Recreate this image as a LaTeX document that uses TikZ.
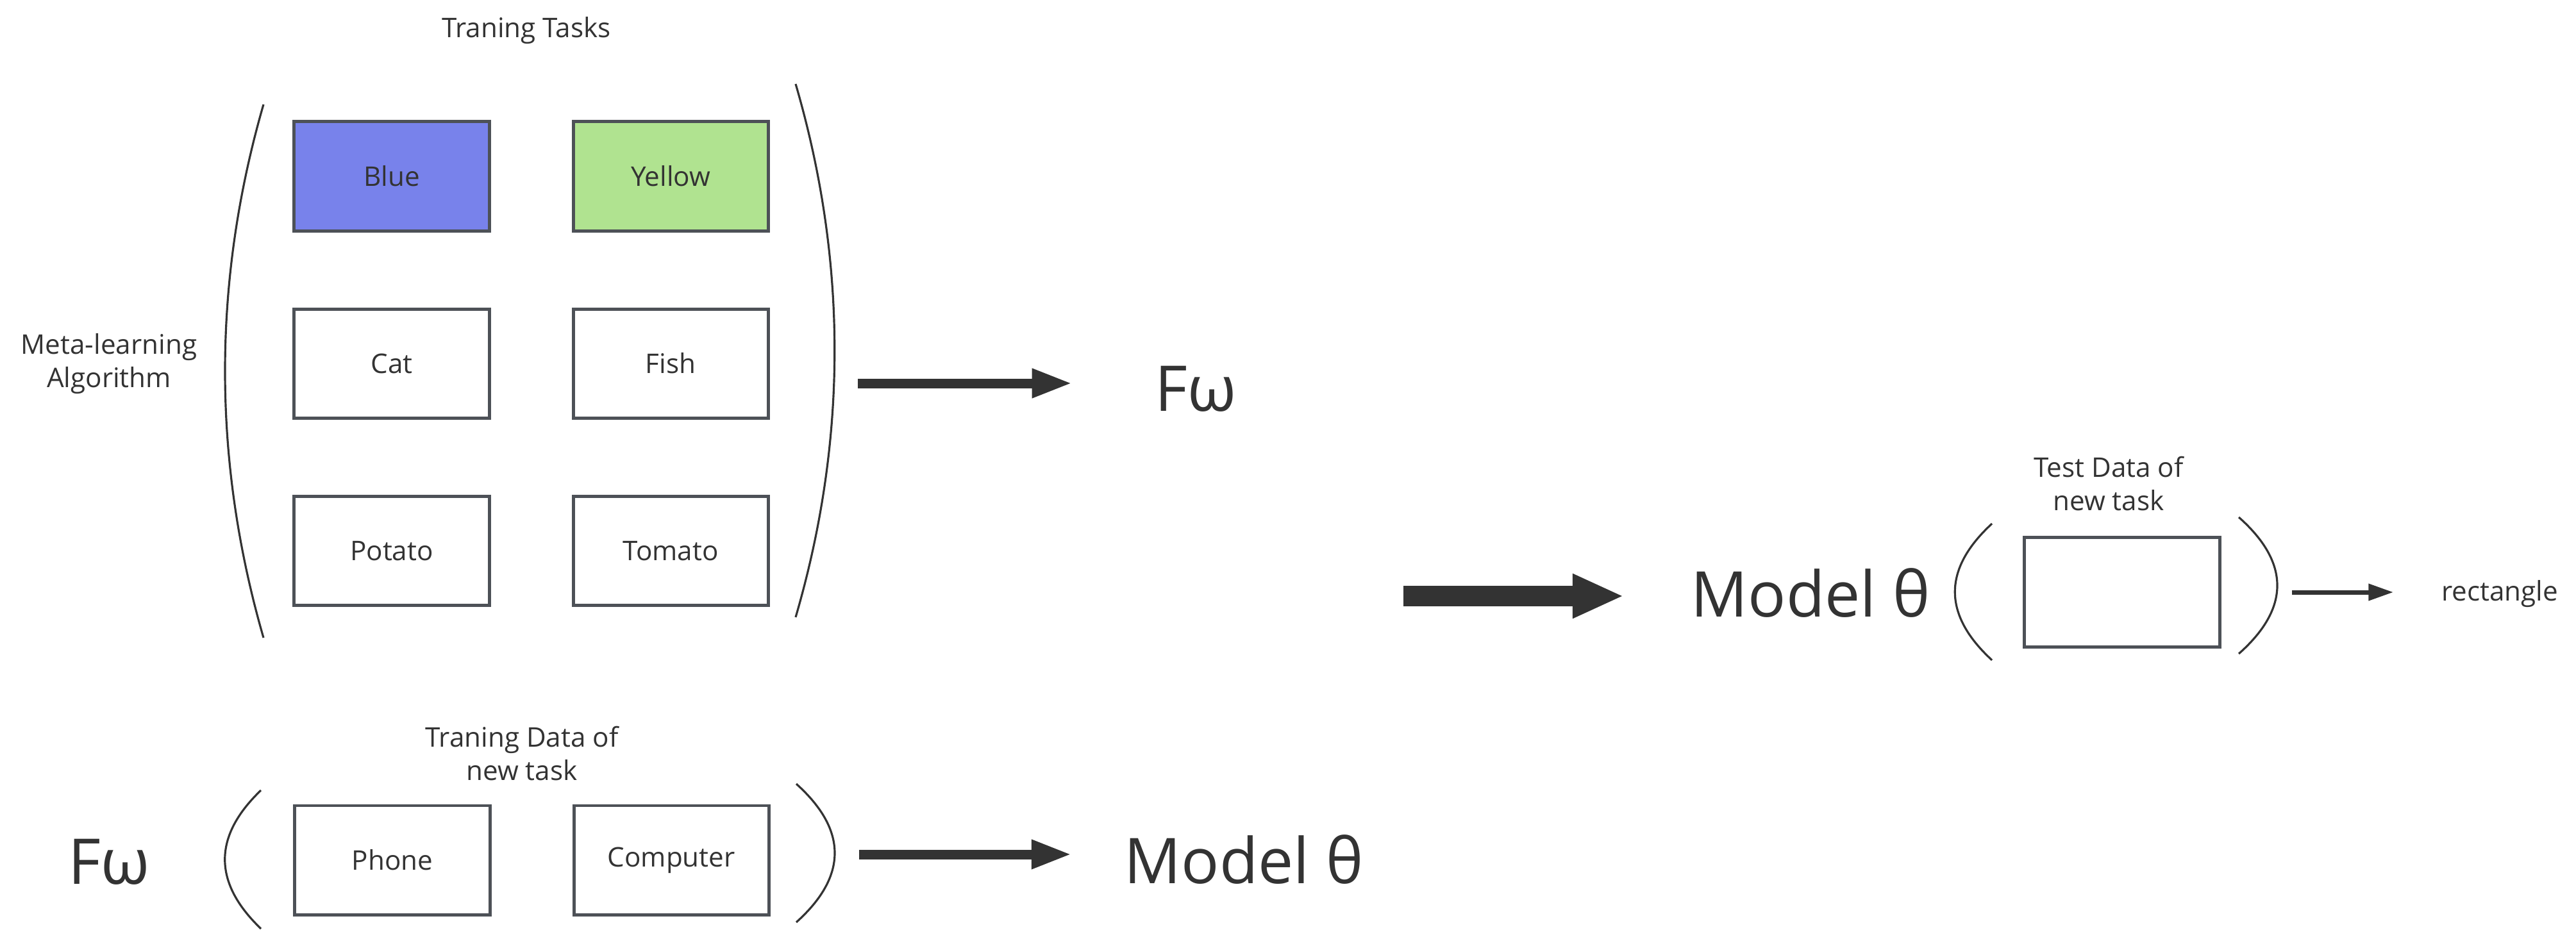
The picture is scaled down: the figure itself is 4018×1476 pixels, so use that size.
\documentclass[tikz,border=0pt]{standalone}
\usepackage{fontspec}
\setmainfont{Open Sans}
\usepackage{xcolor}
\usepackage{tikz}
\usetikzlibrary{arrows.meta,positioning}
\definecolor{boxline}{HTML}{4D5157}
\definecolor{ink}{HTML}{333333}
\definecolor{taskblue}{HTML}{7882EB}
\definecolor{taskgreen}{HTML}{B0E390}
\tikzset{%
	task/.style      = {draw=boxline, line width=1.4pt, rectangle, minimum width=3.04cm, minimum height=1.7cm, text centered, text=ink, font=\fontsize{12}{14.8}\selectfont},
	smalltext/.style = {inner sep=0pt, text=ink, align=center, font=\fontsize{12}{14.8}\selectfont},
	bigtext/.style   = {inner sep=0pt, text=ink, font=\fontsize{28}{34}\selectfont},
	paren/.style     = {draw=ink, line width=0.9pt},
	arrow/.style     = {draw=ink, line width=0.15cm, -{Triangle[length=0.63cm,width=0.42cm]}},
	bigarrow/.style  = {draw=ink, line width=0.32cm, -{Triangle[length=0.8cm,width=0.64cm]}},
	thinarrow/.style = {draw=ink, line width=0.07cm, -{Triangle[length=0.39cm,width=0.25cm]}},
}

\begin{document}
\begin{tikzpicture}[x=0.01cm,y=-0.01cm]
		\useasboundingbox (0,0) rectangle (4018,1476);
		
		% training tasks
		\node[smalltext] (tasks) at (821,48) {Traning Tasks};
		\node[smalltext] (meta) at (170,568) {Meta-learning\\Algorithm};
		
		\node[task,fill=taskblue] (blue) at (611,275) {Blue};
		\node[task,fill=taskgreen,right=1.26cm of blue] (yellow) {Yellow};
		\node[task,below=1.17cm of blue] (cat) {Cat};
		\node[task,below=1.17cm of yellow] (fish) {Fish};
		\node[task,below=1.17cm of cat] (potato) {Potato};
		\node[task,below=1.17cm of fish] (tomato) {Tomato};
		
		\draw[paren] (411,163) .. controls (331,440) and (331,718) .. (411,995);
		\draw[paren] (1241,131) .. controls (1322,408) and (1322,686) .. (1241,963);
		
		\coordinate (a1) at (1338,598);
		\node[bigtext] (fw1) at (1865,607) {Fω};
		\draw[arrow,shorten >=1.28cm] (a1) -- (a1 -| fw1.west);
		
		% test data
		\coordinate (a2) at (2189,930);
		\node[bigtext] (model1) at (2824,925) {Model θ};
		\draw[bigarrow,shorten >=1.04cm] (a2) -- (a2 -| model1.west);
		
		\node[smalltext] (testdata) at (3289,755) {Test Data of\\new task};
		\node[task] (test) at (3310,924) {};
		\draw[paren] (3107,817) .. controls (3030,888) and (3030,959) .. (3107,1030);
		\draw[paren] (3492,807) .. controls (3572,878) and (3572,949) .. (3492,1020);
		
		\coordinate (a3) at (3575,924);
		\node[smalltext] (rect) at (3899,927) {rectangle};
		\draw[thinarrow,shorten >=0.74cm] (a3) -- (a3 -| rect.west);
		
		% training data of new task
		\node[smalltext] (traindata) at (814,1176) {Traning Data of\\new task};
		\node[bigtext] (fw2) at (170,1345) {Fω};
		\node[task] (phone) at (612,1342) {Phone};
		\node[task,right=1.26cm of phone] (computer) {Computer};
		
		\draw[paren] (407,1233) .. controls (332,1305) and (332,1377) .. (407,1449);
		\draw[paren] (1242,1223) .. controls (1322,1295) and (1322,1367) .. (1242,1439);
		
		\coordinate (a4) at (1340,1333);
		\node[bigtext] (model2) at (1940,1341) {Model θ};
		\draw[arrow,shorten >=0.81cm] (a4) -- (a4 -| model2.west);
		
\end{tikzpicture}
\end{document}
